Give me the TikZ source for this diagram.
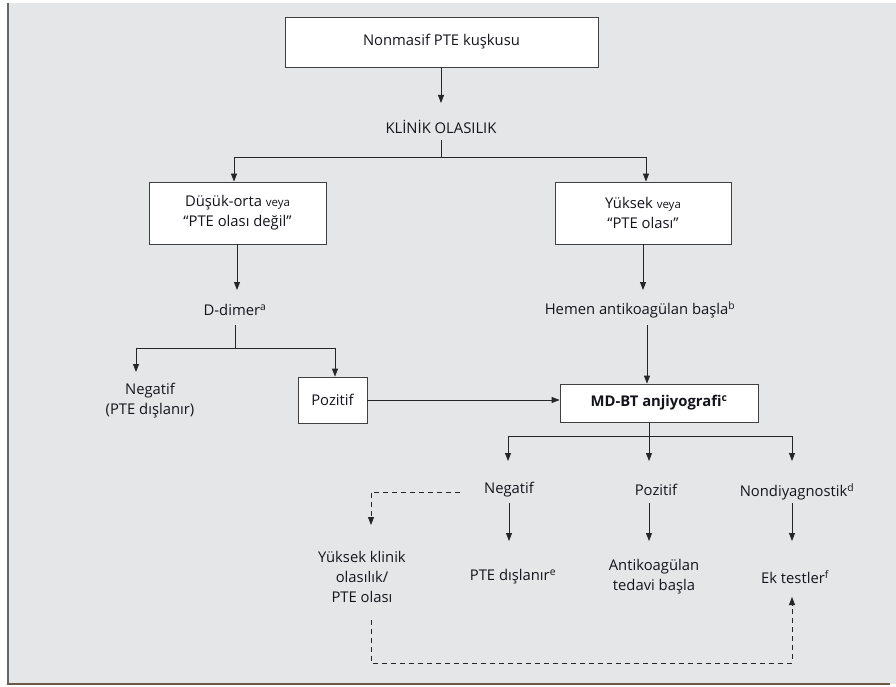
\documentclass[tikz,border=0pt]{standalone}
\usepackage{fontspec}
\setmainfont{Open Sans}
\usetikzlibrary{arrows.meta}
\definecolor{bg}{HTML}{E5E6E8}
\definecolor{txt}{HTML}{14141C}
\definecolor{framebrown}{HTML}{6E5846}
\newcommand{\veyasize}{\fontsize{11.5}{13}\selectfont}
\begin{document}
\begin{tikzpicture}[x=1pt,y=-1pt,
  every node/.style={font=\fontsize{14.8}{18}\selectfont, text=txt, align=center, inner sep=0pt},
  boxnode/.style={draw=black!75, fill=white, line width=0.8pt},
  conn/.style={draw=black!85, line width=0.8pt},
  arr/.style={conn, -{Triangle[length=8pt,width=6pt]}},
  dasharr/.style={conn, dashed, dash pattern=on 5pt off 4pt, -{Triangle[length=8pt,width=6pt]}}]
\useasboundingbox (0,0) rectangle (896,687);
\fill[white] (0,0) rectangle (896,687);
\fill[bg] (8,3) rectangle (896,684);
\draw[black!60, line width=1.2pt] (8,3) -- (8,684);
\draw[framebrown, line width=1.6pt] (7,684) -- (890,684);

% nodes
\node[boxnode, minimum width=313pt, minimum height=50pt] (top) at (441.5,42) {Nonmasif PTE kuşkusu};
\node (klinik) at (441,127) {KLİNİK OLASILIK};
\node[boxnode, minimum width=177pt, minimum height=62pt] (low) at (237.5,213) {Düşük-orta {\veyasize veya}\\[2pt]“PTE olası değil”};
\node[boxnode, minimum width=176pt, minimum height=62pt] (high) at (643,213) {Yüksek {\veyasize veya}\\[2pt]“PTE olası”};
\node (ddimer) at (235,310) {D-dimer\textsuperscript{a}};
\node (hemen) at (640,310) {Hemen antikoagülan başla\textsuperscript{b}};
\node (neg1) at (150,401) {Negatif\\[2pt](PTE dışlanır)};
\node[boxnode, minimum width=69pt, minimum height=46pt] (poz1) at (332.5,400) {Pozitif};
\node[boxnode, minimum width=198pt, minimum height=38pt, font=\fontsize{14.8}{18}\selectfont\bfseries] (mdbt) at (659,403) {MD-BT anjiyografi\textsuperscript{c}};
\node (neg2) at (509,490) {Negatif};
\node (poz2) at (656,490) {Pozitif};
\node (nondiag) at (797,492) {Nondiyagnostik\textsuperscript{d}};
\node (yuksek) at (362,577) {Yüksek klinik\\[2pt]olasılık/\\[2pt]PTE olası};
\node (ptedis) at (513,577) {PTE dışlanır\textsuperscript{e}};
\node (antik) at (654,577) {Antikoagülan\\[2pt]tedavi başla};
\node (ek) at (795,577) {Ek testler\textsuperscript{f}};

% connectors
\draw[arr] (top.south -| 441,0) -- (441,103);
\coordinate (kb) at (441,140);
\draw[conn] (kb) -- (441,157);
\draw[arr] (441,157) -| (low.north -| 234,0);
\draw[arr] (441,157) -| (high.north -| 646,0);
\draw[arr] (low.south -| 237,0) -- (237,290);
\draw[conn] (235,325) -- (235,348);
\draw[arr] (235,348) -| (136,372);
\draw[arr] (235,348) -| (poz1.north -| 335,0);
\draw[arr] (high.south) -- (643,290);
\draw[arr] (647,325) -- (mdbt.north -| 647,0);
\draw[arr] (poz1.east) -- (mdbt.west |- poz1.east);
\draw[conn] (mdbt.south -| 649,0) -- (649,436);
\draw[arr] (649,436) -- (649,461);
\draw[arr] (649,436) -| (508,461);
\draw[arr] (649,436) -| (792,461);
\draw[arr] (509,503) -- (509,541);
\draw[arr] (649,503) -- (649,541);
\draw[arr] (792,503) -- (792,541);
\draw[dasharr] (460,492) -| (371,525);
\draw[dasharr] (371,620) |- (792,663) -- (792,597);
\end{tikzpicture}
\end{document}
